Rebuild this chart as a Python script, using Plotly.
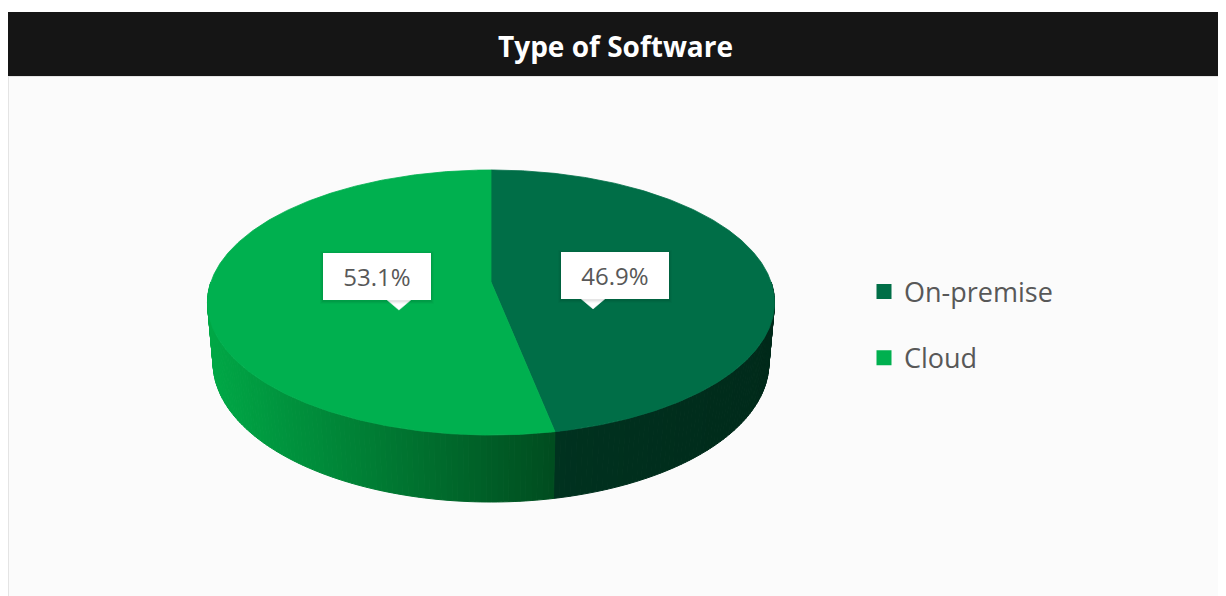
import numpy as np
import plotly.graph_objects as go

# ---------------- data ----------------
categories = ["On-premise", "Cloud"]
values = [46.9, 53.1]
labels = ["46.9%", "53.1%"]

# ---------------- styles ----------------
top_colors = ["#006e47", "#00b04f"]
side_left_colors = ["#00321f", "#00a846"]
side_right_colors = ["#002a1a", "#004c1f"]
TEXT_GREY = "#585858"
FONT = "Open Sans"

W, H = 1226, 596
OFF = 8  # page body margin of the html page

# perspective camera for the 3D pie (pixel space)
CX, CY = 491.0, 282.0
FOCAL = 1605.0
DIST = 5.73
SIN_A, COS_A = 0.4618, 0.887
THICK = 0.2453


def proj(phi_deg, r=1.0, yh=0.0):
    phi = np.radians(phi_deg)
    X = r * np.sin(phi)
    Z = r * np.cos(phi)
    zc = DIST + Z * COS_A - yh * SIN_A
    u = CX + FOCAL * X / zc
    v = CY - FOCAL * (Z * SIN_A + yh * COS_A) / zc
    return u, v


def hex2rgb(h):
    h = h.lstrip("#")
    return tuple(int(h[i:i + 2], 16) for i in (0, 2, 4))


def mix(c1, c2, t):
    a, b = hex2rgb(c1), hex2rgb(c2)
    return "rgb(%d,%d,%d)" % tuple(round(a[i] + (b[i] - a[i]) * t) for i in range(3))


total = sum(values)
starts, ends = [], []
acc = 0.0
for v in values:
    starts.append(acc / total * 360.0)
    acc += v
    ends.append(acc / total * 360.0)

fig = go.Figure()

# ---------- side walls (front half only) ----------
for i in range(len(values)):
    a0 = max(starts[i], 90.0)
    a1 = min(ends[i], 270.0)
    if a1 <= a0:
        continue
    n = max(4, int((a1 - a0) / 1.0))
    edges = np.linspace(a0, a1, n + 1)
    us_all = proj(edges)[0]
    umin, umax = us_all.min(), us_all.max()
    for k in range(n):
        p0, p1 = edges[k], edges[k + 1]
        ph = np.linspace(p0, p1, 3)
        ut, vt = proj(ph)
        ub, vb = proj(ph[::-1], yh=-THICK)
        xs = np.concatenate([ut, ub, ut[:1]])
        ys = np.concatenate([vt, vb, vt[:1]])
        um = proj((p0 + p1) / 2)[0]
        t = (um - umin) / (umax - umin) if umax > umin else 0
        col = mix(side_left_colors[i], side_right_colors[i], t)
        fig.add_trace(go.Scatter(x=xs, y=ys, mode="lines", fill="toself",
                                 fillcolor=col, line=dict(color=col, width=1),
                                 hoverinfo="skip", showlegend=False))

# ---------- top faces ----------
for i in range(len(values)):
    ph = np.linspace(starts[i], ends[i], int((ends[i] - starts[i]) * 2) + 2)
    u, v = proj(ph)
    xs = np.concatenate([[CX], u, [CX]])
    ys = np.concatenate([[CY], v, [CY]])
    fig.add_trace(go.Scatter(x=xs, y=ys, mode="lines", fill="toself",
                             fillcolor=top_colors[i],
                             line=dict(color=top_colors[i], width=0.8),
                             hoverinfo="skip", showlegend=False))

# ---------- value labels (callout boxes) ----------
LCX, LCY = 496.0, 309.5
LRX, LRY = 97.5, 6.0
BOX_W, BOX_H = 108, 47
annotations = []
shapes = []
for i in range(len(values)):
    mid = (starts[i] + ends[i]) / 2
    tx = LCX + LRX * np.sin(np.radians(mid))
    ty = LCY - LRY * np.cos(np.radians(mid))
    side = 1 if np.sin(np.radians(mid)) >= 0 else -1
    bx = tx + side * 22
    by = ty - 10 - BOX_H / 2
    # soft shadow
    for g, op in ((3, 0.025), (2, 0.035), (1, 0.045)):
        shapes.append(dict(type="rect", xref="x", yref="y", layer="above",
                           x0=bx - BOX_W / 2 - g, x1=bx + BOX_W / 2 + g,
                           y0=by - BOX_H / 2 - g + 1, y1=by + BOX_H / 2 + g + 1,
                           fillcolor="rgba(0,0,0,%g)" % op, line=dict(width=0)))
    fig.add_trace(go.Scatter(x=[tx - 13, tx + 13, tx, tx - 13],
                             y=[ty - 11, ty - 11, ty, ty - 11],
                             mode="lines", fill="toself", fillcolor="white",
                             line=dict(color="white", width=0.5),
                             hoverinfo="skip", showlegend=False))
    annotations.append(dict(x=bx, y=by, xref="x", yref="y", text=labels[i],
                            showarrow=False, bgcolor="white", width=BOX_W,
                            height=BOX_H, borderpad=0, borderwidth=0,
                            font=dict(family=FONT, size=24, color=TEXT_GREY),
                            xanchor="center", yanchor="middle"))

# ---------- legend entries ----------
for i in range(len(values)):
    fig.add_trace(go.Scatter(x=[None], y=[None], mode="markers", name=categories[i],
                             legendgroup=categories[i],
                             marker=dict(symbol="square", size=15, color=top_colors[i])))

# ---------- title bar & panel ----------
shapes = [
    dict(type="rect", xref="x", yref="y", layer="below", x0=8, x1=1223, y0=76, y1=H + 5,
         fillcolor="#fbfbfb", line=dict(color="#e4e4e4", width=2)),
    dict(type="rect", xref="x", yref="y", layer="below", x0=7, x1=1223, y0=12, y1=76,
         fillcolor="#151515", line=dict(width=0)),
] + shapes

annotations.append(dict(x=615, y=46, xref="x", yref="y", text="<b>Type of Software</b>",
                        showarrow=False, font=dict(family=FONT, size=28, color="white"),
                        xanchor="center", yanchor="middle"))

FW, FH = W - OFF, H - OFF
fig.update_layout(
    width=FW, height=FH,
    margin=dict(l=0, r=0, t=0, b=0),
    paper_bgcolor="white", plot_bgcolor="rgba(0,0,0,0)",
    xaxis=dict(range=[OFF, W], visible=False, fixedrange=True),
    yaxis=dict(range=[H, OFF], visible=False, fixedrange=True),
    shapes=shapes,
    annotations=annotations,
    showlegend=True,
    legend=dict(x=(864 - OFF) / FW, xanchor="left", y=1 - (325 - OFF) / FH, yanchor="middle",
                font=dict(family=FONT, size=27, color=TEXT_GREY),
                bgcolor="rgba(0,0,0,0)", tracegroupgap=28, itemclick=False,
                itemdoubleclick=False),
)

fig.write_html("out.html", config={"displayModeBar": False})
